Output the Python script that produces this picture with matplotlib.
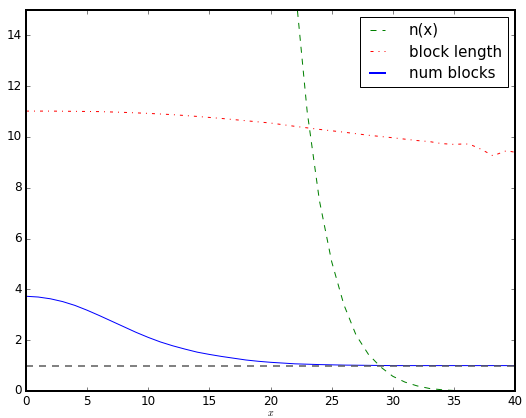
import matplotlib
matplotlib.use("Agg")
import matplotlib.pyplot as plt

plt.style.use("classic")

# ── Data ────────────────────────────────────────────────────────────────────
nx_x = [21, 22, 23, 24, 25, 26, 27, 28, 29, 30, 31, 32, 33, 34, 35]
nx_y = [24.0, 16.0, 11.0, 7.5, 5.1, 3.4, 2.2, 1.45, 0.95, 0.58, 0.35, 0.2, 0.1, 0.05, 0.02]

blen_x = [0, 2, 4, 6, 8, 10, 12, 14, 16, 18, 20, 22, 24, 26, 28, 30, 32, 33, 34,
          35, 36, 36.5, 37, 37.6, 38.2, 38.8, 39.3, 40]
blen_y = [11.02, 11.02, 11.01, 11.0, 10.97, 10.93, 10.88, 10.81, 10.73, 10.64,
          10.55, 10.42, 10.30, 10.19, 10.07, 9.97, 9.86, 9.82, 9.74, 9.71, 9.73,
          9.67, 9.57, 9.42, 9.26, 9.37, 9.46, 9.40]

nb_x = [0, 1, 2, 3, 4, 5, 6, 7, 8, 9, 10, 11, 12, 13, 14, 15, 16, 17, 18, 19,
        20, 22, 24, 26, 28, 30, 35, 40]
nb_y = [3.73, 3.70, 3.63, 3.52, 3.37, 3.18, 2.97, 2.75, 2.53, 2.31, 2.11, 1.93,
        1.78, 1.65, 1.53, 1.44, 1.36, 1.29, 1.22, 1.17, 1.13, 1.07, 1.04, 1.02,
        1.01, 1.0, 1.0, 1.0]

# ── Plot ────────────────────────────────────────────────────────────────────
fig = plt.figure(figsize=(526 / 72, 418 / 72), dpi=72, facecolor="white")
ax = fig.add_axes([26 / 526, 27 / 418, 489 / 526, 381 / 418])

ax.plot(nx_x, nx_y, color="g", ls="--", lw=1, label="n(x)")
ax.plot(blen_x, blen_y, color="r", ls="-.", lw=1, label="block length")
ax.plot(nb_x, nb_y, color="b", ls="-", lw=1, label="num blocks")
ax.axhline(1, color="0.35", ls="--", lw=1.5, dashes=(7, 6))

ax.set_xlim(0, 40)
ax.set_ylim(0, 15)
ax.set_yticks(range(0, 15, 2))
ax.set_xlabel("$x$", fontsize=10, labelpad=0)

leg = ax.legend(loc="upper right", fontsize=15, handlelength=1.6,
                handletextpad=1.3, labelspacing=0.45, borderaxespad=0.45)
leg.get_lines()[2].set_linewidth(2)
for sp in ax.spines.values():
    sp.set_linewidth(2)

fig.savefig("out.png", dpi=72, facecolor="white")
